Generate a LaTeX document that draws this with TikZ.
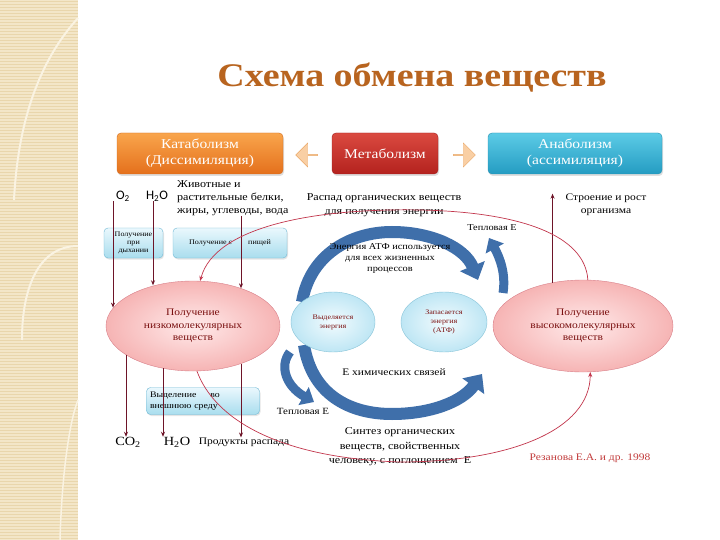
\documentclass[tikz,border=0pt]{standalone}
\usepackage{fontspec}
\setmainfont{Liberation Serif}[FakeStretch=1.15]
\newfontfamily\calib{Carlito}
\usetikzlibrary{shapes.geometric,shapes.arrows,arrows.meta,shadows}
\definecolor{katT}{HTML}{F9A54C}
\definecolor{katB}{HTML}{E4701C}
\definecolor{katD}{HTML}{D06A20}
\definecolor{metT}{HTML}{DA4A40}
\definecolor{metB}{HTML}{B4221E}
\definecolor{metD}{HTML}{A02020}
\definecolor{anaT}{HTML}{5CCBE6}
\definecolor{anaB}{HTML}{249CC2}
\definecolor{anaD}{HTML}{2A90B0}
\definecolor{arrF}{HTML}{F9CFA4}
\definecolor{arrD}{HTML}{EAA868}
\definecolor{boxT}{HTML}{EAF8FD}
\definecolor{boxB}{HTML}{A9DDEE}
\definecolor{boxD}{HTML}{6FB8D4}
\definecolor{ellI}{HTML}{FFEAEA}
\definecolor{ellO}{HTML}{F6B4B4}
\definecolor{ellD}{HTML}{D9808A}
\definecolor{ellT}{HTML}{7A1010}
\definecolor{sellI}{HTML}{F2FBFE}
\definecolor{sellO}{HTML}{BEE6F4}
\definecolor{sellD}{HTML}{86C3D8}
\definecolor{flowC}{HTML}{6E1428}
\definecolor{loopC}{HTML}{C2364C}
\definecolor{blueC}{HTML}{3F6FAA}
\definecolor{titleC}{HTML}{B8641F}
\definecolor{authC}{HTML}{C23B3B}
\definecolor{beige}{HTML}{F3E6C8}
\definecolor{stripeC}{HTML}{E9D6AC}
\definecolor{arcC}{HTML}{FAF3E2}
\tikzstyle{topbox} = [rounded corners=4pt, minimum height=41pt, text=white, align=center, font={\fontsize{13.5}{16}\selectfont}, drop shadow={shadow xshift=1pt, shadow yshift=-2pt, opacity=.25}]
\tikzstyle{kat} = [topbox, draw=katD, top color=katT, bottom color=katB, minimum width=166pt]
\tikzstyle{met} = [topbox, draw=metD, top color=metT, bottom color=metB, minimum width=106pt]
\tikzstyle{anab} = [topbox, draw=anaD, top color=anaT, bottom color=anaB, minimum width=174pt]
\tikzstyle{hollow} = [single arrow, draw=arrD, fill=arrF, minimum height=22pt, minimum width=24pt, single arrow head extend=4pt, inner sep=0pt]
\tikzstyle{lightbox} = [rounded corners=4pt, draw=boxD, top color=boxT, bottom color=boxB, inner sep=1pt, align=center, font={\fontsize{7}{8}\selectfont}, drop shadow={shadow xshift=1pt, shadow yshift=-1.5pt, opacity=.2}]
\tikzstyle{bigell} = [ellipse, draw=ellD, inner color=ellI, outer color=ellO, text=ellT, align=center, inner sep=0pt, font={\fontsize{10}{12.5}\selectfont}]
\tikzstyle{smallell} = [ellipse, draw=sellD, inner color=sellI, outer color=sellO, text=ellT, align=center, inner sep=0pt, font={\fontsize{7}{9}\selectfont}]
\tikzstyle{txt} = [align=center, inner sep=0pt, font={\fontsize{10.5}{13.5}\selectfont}]
\tikzstyle{chem} = [inner sep=0pt, font={\calib\fontsize{13}{15}\selectfont}]
\tikzstyle{flow} = [draw=flowC, line width=0.8pt, -{Stealth[length=5pt,width=4pt]}]
\tikzstyle{loopline} = [draw=loopC, line width=0.7pt, -{Stealth[length=5pt,width=4pt]}]
\tikzstyle{bluearrow} = [draw=blueC, line width=12pt, -{Triangle[length=15pt,width=26pt]}]

\begin{document}
\begin{tikzpicture}[x=1pt,y=-1pt]
        \useasboundingbox (0,0) rectangle (720,540);
        \fill[white] (0,0) rectangle (720,540);
        \fill[beige] (0,0) rectangle (78,540);
        \foreach \y in {1,4,...,540} \draw[stripeC, line width=0.6pt] (0,\y) -- (78,\y);
        \draw[arcC, line width=2pt] (78,18) .. controls (40,60) and (18,120) .. (14,200);
        \draw[arcC, line width=2pt] (78,246) .. controls (40,246) and (22,285) .. (22,340);
        \draw[arcC, line width=1.5pt] (60,540) .. controls (62,470) and (70,420) .. (78,400);
        \node[font={\fontsize{33}{36}\selectfont\bfseries}, text=titleC] (title) at (412,78) {Схема обмена веществ};
        \node[kat] (kat) at (200,153.5) {Катаболизм\\(Диссимиляция)};
        \node[met] (met) at (385,153.5) {Метаболизм};
        \node[anab] (anab) at (575,153.5) {Анаболизм\\(ассимиляция)};
        \node[hollow, shape border rotate=180] (larr) at (307,155) {};
        \node[hollow] (rarr) at (464,155) {};
        \node[chem] (o2) at (123,196) {O\textsubscript{2}};
        \node[chem] (h2o) at (157,196) {H\textsubscript{2}O};
        \node[txt, align=left, anchor=west, font={\fontsize{10.5}{13}\selectfont}] (food) at (177,198) {Животные и\\растительные белки,\\жиры, углеводы, вода};
        \node[txt] (raspad) at (384,205) {Распад органических веществ\\для получения энергии};
        \node[txt, font={\fontsize{10}{13.5}\selectfont}] (stroenie) at (606,205) {Строение и рост\\организма};
        \node[txt, font={\fontsize{9}{10}\selectfont}] (teplo1) at (492,228) {Тепловая Е};
        \node[lightbox, minimum width=59pt, minimum height=30pt] (dyh) at (133.5,243) {Получение\\при\\дыхании};
        \node[lightbox, minimum width=114pt, minimum height=30pt] (pisha) at (230,243) {Получение с\hspace{16pt}пищей};
        \draw[bluearrow] (302,302) .. controls (310,255) and (350,232) .. (392,232) .. controls (432,232) and (465,248) .. (478,280);
        \draw[bluearrow] (304,345) .. controls (312,395) and (350,414) .. (392,414) .. controls (430,414) and (462,402) .. (482,374);
        \draw[bluearrow, line width=9pt, -{Triangle[length=12pt,width=20pt]}] (503,293) .. controls (506,274) and (500,258) .. (489,238);
        \draw[bluearrow, line width=9pt, -{Triangle[length=12pt,width=20pt]}] (290,352) .. controls (279,366) and (286,386) .. (314,402);
        \node[txt, font={\fontsize{9}{11}\selectfont}] (atp) at (390,258) {Энергия АТФ используется\\для всех жизненных\\процессов};
        \node[bigell, minimum width=174pt, minimum height=90pt] (lowmol) at (193,326) {Получение\\низкомолекулярных\\веществ};
        \node[bigell, minimum width=180pt, minimum height=92pt] (highmol) at (583,326) {Получение\\высокомолекулярных\\веществ};
        \node[smallell, minimum width=84pt, minimum height=60pt] (vyd) at (333,322) {Выделяется\\энергия};
        \node[smallell, minimum width=86pt, minimum height=60pt] (zap) at (444,322) {Запасается\\энергия\\(АТФ)};
        \node[txt, font={\fontsize{10}{12}\selectfont}] (him) at (394,372) {Е химических связей};
        \node[lightbox, align=left, font={\fontsize{8.5}{10.5}\selectfont}, minimum width=113pt, minimum height=27pt, text width=106pt] (vydel) at (203,401) {Выделение\hspace{14pt}во\\внешнюю среду};
        \node[txt, font={\fontsize{9.5}{11}\selectfont}] (teplo2) at (303,411) {Тепловая Е};
        \node[inner sep=0pt, font={\fontsize{12.5}{14}\selectfont}] (co2) at (128,442) {CO\textsubscript{2}};
        \node[inner sep=0pt, font={\fontsize{12.5}{14}\selectfont}] (h2ob) at (177,442) {H\textsubscript{2}O};
        \node[txt, font={\fontsize{10}{11}\selectfont}] (prod) at (244,442) {Продукты распада};
        \node[txt, font={\fontsize{10.5}{14.5}\selectfont}] (sintez) at (400,447) {Синтез органических\\веществ, свойственных\\человеку, с поглощением \ Е};
        \node[txt, text=authC, font={\fontsize{10}{11}\selectfont}] (auth) at (590,458) {Резанова Е.А. и др. 1998};
        \draw[flow] ([xshift=-10pt]o2.south) -- ([xshift=-10pt]o2.south |- lowmol.167);
        \draw[flow] ([xshift=-4pt]h2o.south) -- ([xshift=-4pt]h2o.south |- lowmol.133);
        \draw[flow] ([xshift=64pt]food.south west) -- ([xshift=64pt]food.south west |- lowmol.38);
        \draw[flow] ([xshift=-2pt]co2.north |- lowmol.203) -- ([xshift=-2pt]co2.north);
        \draw[flow] ([xshift=-14pt]h2ob.north |- lowmol.234) -- ([xshift=-14pt]h2ob.north);
        \draw[flow] ([xshift=-3pt]prod.north |- lowmol.322) -- ([xshift=-3pt]prod.north);
        \draw[flow] (highmol.125) -- (highmol.125 |- stroenie.north);
        \draw[loopline] (highmol.84) .. controls (585,235) and (520,212) .. (420,210) .. controls (320,208) and (215,225) .. (lowmol.81);
        \draw[loopline] (lowmol.275) .. controls (215,420) and (280,458) .. (400,462) .. controls (510,462) and (590,430) .. (highmol.279);
      \end{tikzpicture}
\end{document}
